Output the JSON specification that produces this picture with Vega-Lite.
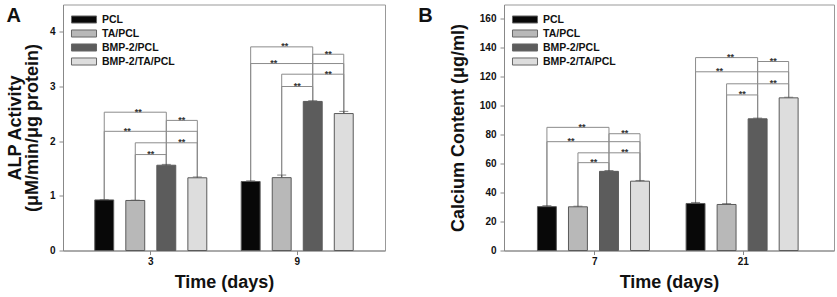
{
  "$schema": "https://vega.github.io/schema/vega-lite/v6.json",
  "background": "white",
  "padding": {"left": 5, "top": 3.5, "right": 0, "bottom": 1},
  "spacing": 31,
  "config": {
    "font": "Liberation Sans",
    "view": {"stroke": "#999999", "strokeWidth": 1},
    "axis": {"labelFont": "Liberation Sans", "labelFontWeight": "bold", "labelFontSize": 10, "labelColor": "#111111", "labelOverlap": false, "labelPadding": 4, "titleFont": "Liberation Sans", "titleFontWeight": "bold", "titleFontSize": 18, "titleColor": "#111111", "domainColor": "#888888", "tickColor": "#888888", "tickSize": 4, "grid": false},
    "legend": {"orient": "top-left", "title": null, "offset": 7, "padding": 0, "rowPadding": 0, "labelFont": "Liberation Sans", "labelFontWeight": "bold", "labelFontSize": 10.5, "labelColor": "#111111", "labelOffset": 16, "symbolType": "M-0.87,-0.47H2.47V0.47H-0.87Z", "symbolSize": 225, "symbolStrokeColor": "#666666", "symbolStrokeWidth": 1, "symbolOpacity": 1},
    "title": {"anchor": "start", "frame": "bounds", "fontSize": 20, "fontWeight": "bold", "color": "#111111", "font": "Liberation Sans", "offset": 0, "baseline": "top", "dy": 25}
  },
  "datasets": {
    "alp": [
      {"day": "3", "group": "PCL", "value": 0.925, "upper": 0.93},
      {"day": "3", "group": "TA/PCL", "value": 0.915, "upper": 0.92},
      {"day": "3", "group": "BMP-2/PCL", "value": 1.56, "upper": 1.575},
      {"day": "3", "group": "BMP-2/TA/PCL", "value": 1.33, "upper": 1.345},
      {"day": "9", "group": "PCL", "value": 1.262, "upper": 1.275},
      {"day": "9", "group": "TA/PCL", "value": 1.333, "upper": 1.38},
      {"day": "9", "group": "BMP-2/PCL", "value": 2.727, "upper": 2.74},
      {"day": "9", "group": "BMP-2/TA/PCL", "value": 2.505, "upper": 2.545}
    ],
    "alpBr": [
      {"day": "3", "cmp": "PCL-BMP", "from": "PCL", "to": "BMP-2/PCL", "at": "TA/PCL", "level": 2.53},
      {"day": "3", "cmp": "BMP-BMPTA", "from": "BMP-2/PCL", "to": "BMP-2/TA/PCL", "at": "BMP-2/PCL", "level": 2.38},
      {"day": "3", "cmp": "PCL-BMPTA", "from": "PCL", "to": "BMP-2/TA/PCL", "at": "TA/PCL", "level": 2.18},
      {"day": "3", "cmp": "TA-BMPTA", "from": "TA/PCL", "to": "BMP-2/TA/PCL", "at": "BMP-2/PCL", "level": 1.97},
      {"day": "3", "cmp": "TA-BMP", "from": "TA/PCL", "to": "BMP-2/PCL", "at": "TA/PCL", "level": 1.755},
      {"day": "9", "cmp": "PCL-BMP", "from": "PCL", "to": "BMP-2/PCL", "at": "TA/PCL", "level": 3.725},
      {"day": "9", "cmp": "BMP-BMPTA", "from": "BMP-2/PCL", "to": "BMP-2/TA/PCL", "at": "BMP-2/PCL", "level": 3.59},
      {"day": "9", "cmp": "PCL-BMPTA", "from": "PCL", "to": "BMP-2/TA/PCL", "at": "TA/PCL", "level": 3.42},
      {"day": "9", "cmp": "TA-BMPTA", "from": "TA/PCL", "to": "BMP-2/TA/PCL", "at": "BMP-2/PCL", "level": 3.225},
      {"day": "9", "cmp": "TA-BMP", "from": "TA/PCL", "to": "BMP-2/PCL", "at": "TA/PCL", "level": 3.0}
    ],
    "ca": [
      {"day": "7", "group": "PCL", "value": 30.3, "upper": 31.0},
      {"day": "7", "group": "TA/PCL", "value": 30.2, "upper": 30.6},
      {"day": "7", "group": "BMP-2/PCL", "value": 54.7, "upper": 55.3},
      {"day": "7", "group": "BMP-2/TA/PCL", "value": 47.9, "upper": 48.4},
      {"day": "21", "group": "PCL", "value": 32.5, "upper": 33.2},
      {"day": "21", "group": "TA/PCL", "value": 31.8, "upper": 32.4},
      {"day": "21", "group": "BMP-2/PCL", "value": 91.0, "upper": 91.5},
      {"day": "21", "group": "BMP-2/TA/PCL", "value": 105.5, "upper": 105.9}
    ],
    "caBr": [
      {"day": "7", "cmp": "PCL-BMP", "from": "PCL", "to": "BMP-2/PCL", "at": "TA/PCL", "level": 85.1},
      {"day": "7", "cmp": "BMP-BMPTA", "from": "BMP-2/PCL", "to": "BMP-2/TA/PCL", "at": "BMP-2/PCL", "level": 80.7},
      {"day": "7", "cmp": "PCL-BMPTA", "from": "PCL", "to": "BMP-2/TA/PCL", "at": "TA/PCL", "level": 75.2},
      {"day": "7", "cmp": "TA-BMPTA", "from": "TA/PCL", "to": "BMP-2/TA/PCL", "at": "BMP-2/PCL", "level": 67.5},
      {"day": "7", "cmp": "TA-BMP", "from": "TA/PCL", "to": "BMP-2/PCL", "at": "TA/PCL", "level": 60.7},
      {"day": "21", "cmp": "PCL-BMP", "from": "PCL", "to": "BMP-2/PCL", "at": "TA/PCL", "level": 133.3},
      {"day": "21", "cmp": "BMP-BMPTA", "from": "BMP-2/PCL", "to": "BMP-2/TA/PCL", "at": "BMP-2/PCL", "level": 130.6},
      {"day": "21", "cmp": "PCL-BMPTA", "from": "PCL", "to": "BMP-2/TA/PCL", "at": "TA/PCL", "level": 123.5},
      {"day": "21", "cmp": "TA-BMPTA", "from": "TA/PCL", "to": "BMP-2/TA/PCL", "at": "BMP-2/PCL", "level": 115.2},
      {"day": "21", "cmp": "TA-BMP", "from": "TA/PCL", "to": "BMP-2/PCL", "at": "TA/PCL", "level": 107.5}
    ]
  },
  "resolve": {"scale": {"color": "independent"}, "legend": {"color": "independent"}},
  "hconcat": [
    {
      "width": 322,
      "height": 246,
      "title": {"text": "A", "dx": 0},
      "encoding": {
        "x": {"field": "day", "type": "nominal", "scale": {"domain": ["3", "9"], "paddingInner": 0.235, "paddingOuter": 0.217}, "axis": {"title": "Time (days)", "labelAngle": 0, "labelPadding": 2, "titlePadding": 7}},
        "xOffset": {"field": "group", "type": "nominal", "scale": {"domain": ["PCL", "TA/PCL", "BMP-2/PCL", "BMP-2/TA/PCL"], "paddingInner": 0.39, "paddingOuter": 0}}
      },
      "layer": [
        {
          "data": {"name": "alpBr"},
          "transform": [{"fold": ["from", "to"], "as": ["end", "grp"]}],
          "mark": {"type": "rule", "color": "#8c8c8c", "strokeWidth": 1},
          "encoding": {
            "xOffset": {"field": "grp", "type": "nominal"},
            "y": {"field": "level", "type": "quantitative", "scale": {"domain": [0, 4.5], "nice": false}, "axis": {"title": ["ALP Activity", "(μM/min/μg protein)"], "values": [0, 1, 2, 3, 4], "format": "d", "titlePadding": 8, "titleLineHeight": 17}},
            "y2": {"datum": 0}
          }
        },
        {
          "data": {"name": "alpBr"},
          "transform": [{"fold": ["from", "to"], "as": ["end", "grp"]}],
          "mark": {"type": "line", "color": "#8c8c8c", "strokeWidth": 1},
          "encoding": {
            "xOffset": {"field": "grp", "type": "nominal"},
            "y": {"field": "level", "type": "quantitative", "axis": {"title": ["ALP Activity", "(μM/min/μg protein)"], "values": [0, 1, 2, 3, 4], "format": "d", "titlePadding": 8, "titleLineHeight": 17}},
            "detail": [{"field": "cmp"}, {"field": "day"}]
          }
        },
        {
          "data": {"name": "alp"},
          "mark": {"type": "rule", "color": "#555555", "strokeWidth": 1},
          "encoding": {"y": {"field": "value", "type": "quantitative", "axis": {"title": ["ALP Activity", "(μM/min/μg protein)"], "values": [0, 1, 2, 3, 4], "format": "d", "titlePadding": 8, "titleLineHeight": 17}}, "y2": {"field": "upper"}}
        },
        {
          "data": {"name": "alp"},
          "mark": {"type": "tick", "color": "#555555", "thickness": 1, "size": 9},
          "encoding": {"y": {"field": "upper", "type": "quantitative", "axis": {"title": ["ALP Activity", "(μM/min/μg protein)"], "values": [0, 1, 2, 3, 4], "format": "d", "titlePadding": 8, "titleLineHeight": 17}}}
        },
        {
          "data": {"name": "alp"},
          "mark": {"type": "bar", "stroke": "#5a5a5a", "strokeWidth": 1},
          "encoding": {
            "y": {"field": "value", "type": "quantitative", "axis": {"title": ["ALP Activity", "(μM/min/μg protein)"], "values": [0, 1, 2, 3, 4], "format": "d", "titlePadding": 8, "titleLineHeight": 17}},
            "color": {"field": "group", "type": "nominal", "scale": {"domain": ["PCL", "TA/PCL", "BMP-2/PCL", "BMP-2/TA/PCL"], "range": ["#080808", "#b8b8b8", "#5c5c5c", "#dddddd"]}}
          }
        },
        {
          "data": {"name": "alpBr"},
          "transform": [{"filter": {"field": "cmp", "oneOf": ["BMP-BMPTA", "TA-BMPTA", "TA-BMP"]}}],
          "mark": {"type": "text", "text": "**", "fontSize": 9, "fontWeight": "bold", "color": "#333333", "baseline": "alphabetic", "dy": 2.5, "dx": 15.5},
          "encoding": {"xOffset": {"field": "at", "type": "nominal"}, "y": {"field": "level", "type": "quantitative", "axis": {"title": ["ALP Activity", "(μM/min/μg protein)"], "values": [0, 1, 2, 3, 4], "format": "d", "titlePadding": 8, "titleLineHeight": 17}}}
        },
        {
          "data": {"name": "alpBr"},
          "transform": [{"filter": {"field": "cmp", "equal": "PCL-BMP"}}],
          "mark": {"type": "text", "text": "**", "fontSize": 9, "fontWeight": "bold", "color": "#333333", "baseline": "alphabetic", "dy": 2.5, "dx": 3},
          "encoding": {"xOffset": {"field": "at", "type": "nominal"}, "y": {"field": "level", "type": "quantitative", "axis": {"title": ["ALP Activity", "(μM/min/μg protein)"], "values": [0, 1, 2, 3, 4], "format": "d", "titlePadding": 8, "titleLineHeight": 17}}}
        },
        {
          "data": {"name": "alpBr"},
          "transform": [{"filter": {"field": "cmp", "equal": "PCL-BMPTA"}}],
          "mark": {"type": "text", "text": "**", "fontSize": 9, "fontWeight": "bold", "color": "#333333", "baseline": "alphabetic", "dy": 2.5, "dx": -8},
          "encoding": {"xOffset": {"field": "at", "type": "nominal"}, "y": {"field": "level", "type": "quantitative", "axis": {"title": ["ALP Activity", "(μM/min/μg protein)"], "values": [0, 1, 2, 3, 4], "format": "d", "titlePadding": 8, "titleLineHeight": 17}}}
        }
      ]
    },
    {
      "width": 330,
      "height": 246,
      "title": {"text": "B", "dx": -31},
      "encoding": {
        "x": {"field": "day", "type": "nominal", "scale": {"domain": ["7", "21"], "paddingInner": 0.23, "paddingOuter": 0.225}, "axis": {"title": "Time (days)", "labelAngle": 0, "labelPadding": 2, "titlePadding": 7}},
        "xOffset": {"field": "group", "type": "nominal", "scale": {"domain": ["PCL", "TA/PCL", "BMP-2/PCL", "BMP-2/TA/PCL"], "paddingInner": 0.39, "paddingOuter": 0}}
      },
      "layer": [
        {
          "data": {"name": "caBr"},
          "transform": [{"fold": ["from", "to"], "as": ["end", "grp"]}],
          "mark": {"type": "rule", "color": "#8c8c8c", "strokeWidth": 1},
          "encoding": {
            "xOffset": {"field": "grp", "type": "nominal"},
            "y": {"field": "level", "type": "quantitative", "scale": {"domain": [0, 170], "nice": false}, "axis": {"title": "Calcium Content (μg/ml)", "values": [0, 20, 40, 60, 80, 100, 120, 140, 160], "format": "d", "titlePadding": 12}},
            "y2": {"datum": 0}
          }
        },
        {
          "data": {"name": "caBr"},
          "transform": [{"fold": ["from", "to"], "as": ["end", "grp"]}],
          "mark": {"type": "line", "color": "#8c8c8c", "strokeWidth": 1},
          "encoding": {
            "xOffset": {"field": "grp", "type": "nominal"},
            "y": {"field": "level", "type": "quantitative", "axis": {"title": "Calcium Content (μg/ml)", "values": [0, 20, 40, 60, 80, 100, 120, 140, 160], "format": "d", "titlePadding": 12}},
            "detail": [{"field": "cmp"}, {"field": "day"}]
          }
        },
        {
          "data": {"name": "ca"},
          "mark": {"type": "rule", "color": "#555555", "strokeWidth": 1},
          "encoding": {"y": {"field": "value", "type": "quantitative", "axis": {"title": "Calcium Content (μg/ml)", "values": [0, 20, 40, 60, 80, 100, 120, 140, 160], "format": "d", "titlePadding": 12}}, "y2": {"field": "upper"}}
        },
        {
          "data": {"name": "ca"},
          "mark": {"type": "tick", "color": "#555555", "thickness": 1, "size": 9},
          "encoding": {"y": {"field": "upper", "type": "quantitative", "axis": {"title": "Calcium Content (μg/ml)", "values": [0, 20, 40, 60, 80, 100, 120, 140, 160], "format": "d", "titlePadding": 12}}}
        },
        {
          "data": {"name": "ca"},
          "mark": {"type": "bar", "stroke": "#5a5a5a", "strokeWidth": 1},
          "encoding": {
            "y": {"field": "value", "type": "quantitative", "axis": {"title": "Calcium Content (μg/ml)", "values": [0, 20, 40, 60, 80, 100, 120, 140, 160], "format": "d", "titlePadding": 12}},
            "color": {"field": "group", "type": "nominal", "scale": {"domain": ["PCL", "TA/PCL", "BMP-2/PCL", "BMP-2/TA/PCL"], "range": ["#080808", "#b8b8b8", "#5c5c5c", "#dddddd"]}}
          }
        },
        {
          "data": {"name": "caBr"},
          "transform": [{"filter": {"field": "cmp", "oneOf": ["BMP-BMPTA", "TA-BMPTA", "TA-BMP"]}}],
          "mark": {"type": "text", "text": "**", "fontSize": 9, "fontWeight": "bold", "color": "#333333", "baseline": "alphabetic", "dy": 2.5, "dx": 15.75},
          "encoding": {"xOffset": {"field": "at", "type": "nominal"}, "y": {"field": "level", "type": "quantitative", "axis": {"title": "Calcium Content (μg/ml)", "values": [0, 20, 40, 60, 80, 100, 120, 140, 160], "format": "d", "titlePadding": 12}}}
        },
        {
          "data": {"name": "caBr"},
          "transform": [{"filter": {"field": "cmp", "equal": "PCL-BMP"}}],
          "mark": {"type": "text", "text": "**", "fontSize": 9, "fontWeight": "bold", "color": "#333333", "baseline": "alphabetic", "dy": 2.5, "dx": 4},
          "encoding": {"xOffset": {"field": "at", "type": "nominal"}, "y": {"field": "level", "type": "quantitative", "axis": {"title": "Calcium Content (μg/ml)", "values": [0, 20, 40, 60, 80, 100, 120, 140, 160], "format": "d", "titlePadding": 12}}}
        },
        {
          "data": {"name": "caBr"},
          "transform": [{"filter": {"field": "cmp", "equal": "PCL-BMPTA"}}],
          "mark": {"type": "text", "text": "**", "fontSize": 9, "fontWeight": "bold", "color": "#333333", "baseline": "alphabetic", "dy": 2.5, "dx": -7},
          "encoding": {"xOffset": {"field": "at", "type": "nominal"}, "y": {"field": "level", "type": "quantitative", "axis": {"title": "Calcium Content (μg/ml)", "values": [0, 20, 40, 60, 80, 100, 120, 140, 160], "format": "d", "titlePadding": 12}}}
        }
      ]
    }
  ]
}
